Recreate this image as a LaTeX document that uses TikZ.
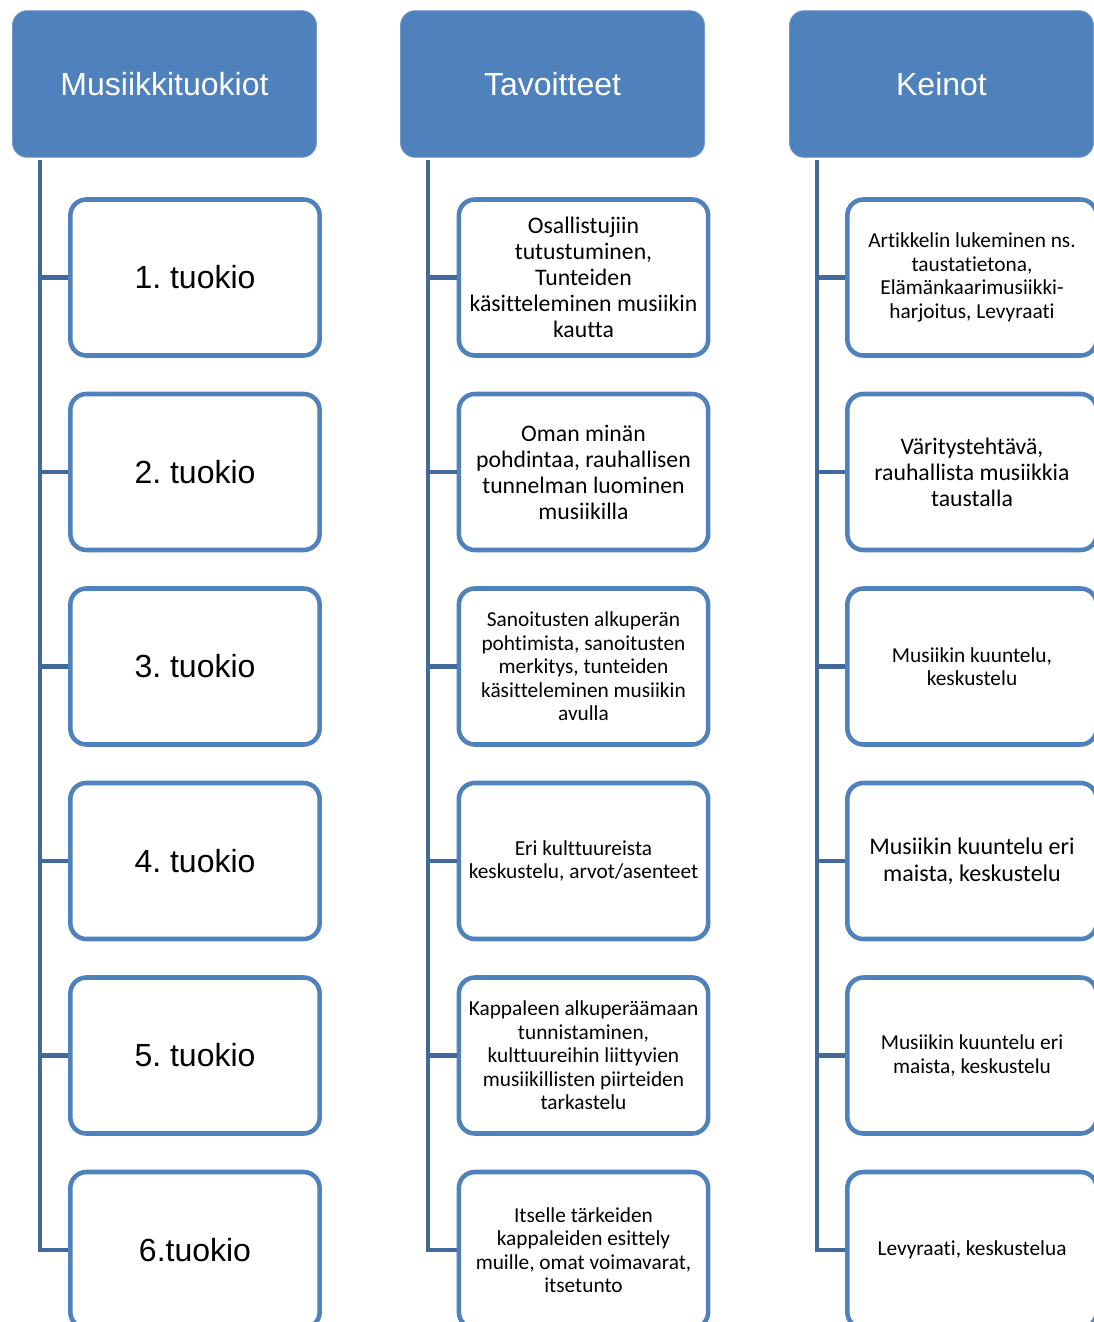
\documentclass[tikz,border=0pt]{standalone}
\usepackage{fontspec}
\setmainfont{Carlito}[Ligatures=NoCommon]
\newfontfamily\arialfont{Liberation Sans}
\frenchspacing
\definecolor{accent}{RGB}{79,129,189}
\definecolor{trunkcol}{RGB}{65,105,155}
\tikzset{
  header/.style={rectangle, rounded corners=11pt, fill=accent, draw=accent!80!white,
    line width=0.6pt, minimum width=228pt, minimum height=110pt,
    text=white, font=\arialfont\fontsize{24}{28}\selectfont},
  item/.style={rectangle, rounded corners=12pt, draw=accent, fill=white,
    line width=3.4pt, minimum width=187pt, minimum height=117pt,
    align=center, inner sep=2pt},
  big/.style={font=\arialfont\fontsize{24}{28}\selectfont},
  mid/.style={font=\fontsize{17.8}{19.5}\selectfont},
  small/.style={font=\fontsize{16}{17.6}\selectfont},
  trunk/.style={draw=trunkcol, line width=3.6pt},
}
\begin{document}
\begin{tikzpicture}[x=0.75pt,y=-0.75pt]
  \clip (0,0) rectangle (1094,1322);
  % otsikot
  \node[header] (h1) at (164.5,84) {Musiikkituokiot};
  \node[header] (h2) at (552.5,84) {Tavoitteet};
  \node[header] (h3) at (941.5,84) {Keinot};
  % tuokiot
  \node[item,big] (a1) at (195,277.5) {1. tuokio};
  \node[item,big] (a2) at (195,472) {2. tuokio};
  \node[item,big] (a3) at (195,666.5) {3. tuokio};
  \node[item,big] (a4) at (195,861) {4. tuokio};
  \node[item,big] (a5) at (195,1055.5) {5. tuokio};
  \node[item,big] (a6) at (195,1250) {6.tuokio};
  % tavoitteet
  \node[item,mid] (b1) at (583.5,277.5) {Osallistujiin\\tutustuminen,\\Tunteiden\\käsitteleminen musiikin\\kautta};
  \node[item,mid] (b2) at (583.5,472) {Oman minän\\pohdintaa, rauhallisen\\tunnelman luominen\\musiikilla};
  \node[item,small] (b3) at (583.5,666.5) {Sanoitusten alkuperän\\pohtimista, sanoitusten\\merkitys, tunteiden\\käsitteleminen musiikin\\avulla};
  \node[item,small] (b4) at (583.5,861) {Eri kulttuureista\\keskustelu, arvot/asenteet};
  \node[item,small] (b5) at (583.5,1055.5) {Kappaleen alkuperäämaan\\tunnistaminen,\\kulttuureihin liittyvien\\musiikillisten piirteiden\\tarkastelu};
  \node[item,small] (b6) at (583.5,1250) {Itselle tärkeiden\\kappaleiden esittely\\muille, omat voimavarat,\\itsetunto};
  % keinot
  \node[item,small] (c1) at (972,277.5) {Artikkelin lukeminen ns.\\taustatietona,\\Elämänkaarimusiikki-\\harjoitus, Levyraati};
  \node[item,mid] (c2) at (972,472) {Väritystehtävä,\\rauhallista musiikkia\\taustalla};
  \node[item,small] (c3) at (972,666.5) {Musiikin kuuntelu,\\keskustelu};
  \node[item,font=\fontsize{18}{20}\selectfont] (c4) at (972,861) {Musiikin kuuntelu eri\\maista, keskustelu};
  \node[item,small] (c5) at (972,1055.5) {Musiikin kuuntelu eri\\maista, keskustelu};
  \node[item,small] (c6) at (972,1250) {Levyraati, keskustelua};
  % rungot
  \coordinate (ta) at (40,160);
  \coordinate (tb) at (428,160);
  \coordinate (tc) at (817,160);
  \begin{scope}[trunk]
    \draw (ta) |- (a6.west);
    \draw (a1.west) -- (a1.west -| ta);
    \draw (a2.west) -- (a2.west -| ta);
    \draw (a3.west) -- (a3.west -| ta);
    \draw (a4.west) -- (a4.west -| ta);
    \draw (a5.west) -- (a5.west -| ta);
    \draw (tb) |- (b6.west);
    \draw (b1.west) -- (b1.west -| tb);
    \draw (b2.west) -- (b2.west -| tb);
    \draw (b3.west) -- (b3.west -| tb);
    \draw (b4.west) -- (b4.west -| tb);
    \draw (b5.west) -- (b5.west -| tb);
    \draw (tc) |- (c6.west);
    \draw (c1.west) -- (c1.west -| tc);
    \draw (c2.west) -- (c2.west -| tc);
    \draw (c3.west) -- (c3.west -| tc);
    \draw (c4.west) -- (c4.west -| tc);
    \draw (c5.west) -- (c5.west -| tc);
  \end{scope}
\end{tikzpicture}
\end{document}
